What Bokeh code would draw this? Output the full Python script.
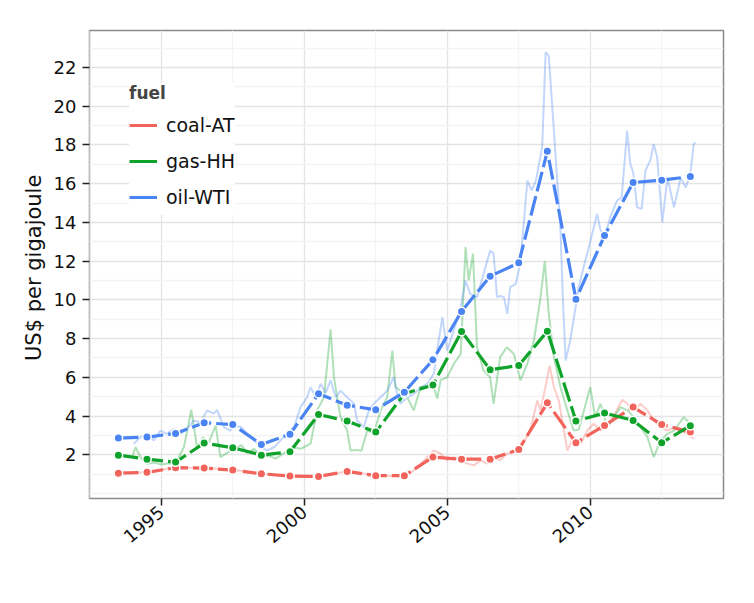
import math
from bokeh.plotting import figure
from bokeh.models import FixedTicker, Range1d, Legend, LegendItem
from bokeh.embed import file_html
from bokeh.resources import INLINE

# ---------------- data ----------------
years = [1993.5, 1994.5, 1995.5, 1996.5, 1997.5, 1998.5, 1999.5, 2000.5, 2001.5, 2002.5,
         2003.5, 2004.5, 2005.5, 2006.5, 2007.5, 2008.5, 2009.5, 2010.5, 2011.5, 2012.5, 2013.5]
coal_y = [1.05, 1.09, 1.33, 1.31, 1.21, 1.02, 0.90, 0.88, 1.14, 0.92, 0.92, 1.88, 1.77, 1.77,
          2.27, 4.68, 2.62, 3.51, 4.46, 3.56, 3.17]
gas_y = [1.98, 1.77, 1.62, 2.60, 2.36, 1.98, 2.15, 4.08, 3.74, 3.17, 5.15, 5.60, 8.37, 6.39,
         6.61, 8.38, 3.74, 4.15, 3.77, 2.62, 3.50]
oil_y = [2.86, 2.91, 3.10, 3.65, 3.56, 2.53, 3.06, 5.15, 4.56, 4.32, 5.23, 6.90, 9.40, 11.22,
         11.91, 17.67, 10.03, 13.32, 16.06, 16.18, 16.37]

coal_t = [1994.0, 1994.5, 1995.0, 1995.5, 1996.0, 1996.5, 1997.0, 1997.5, 1998.0, 1998.5,
          1999.0, 1999.5, 2000.0, 2000.5, 2001.0, 2001.5, 2002.0, 2002.5, 2003.0, 2003.5,
          2003.8, 2004.1, 2004.3, 2004.53, 2004.77, 2005.0, 2005.23, 2005.47, 2005.7, 2005.93,
          2006.16, 2006.4, 2006.62, 2006.85, 2007.08, 2007.3, 2007.55, 2007.9, 2008.15, 2008.26,
          2008.45, 2008.58, 2008.73, 2008.9, 2009.08, 2009.2, 2009.42, 2009.66, 2009.9, 2010.12,
          2010.36, 2010.6, 2010.8, 2011.12, 2011.3, 2011.53, 2011.76, 2012.0, 2012.22, 2012.46,
          2012.7, 2012.93, 2013.16, 2013.4, 2013.62]
coal_m = [1.08, 1.10, 1.22, 1.35, 1.33, 1.32, 1.28, 1.22, 1.12, 1.02,
          0.95, 0.90, 0.87, 0.88, 1.00, 1.16, 1.05, 0.93, 0.90, 0.93,
          1.15, 1.55, 1.88, 2.22, 2.05, 1.71, 1.88, 1.71, 1.54, 1.45,
          1.71, 1.54, 1.88, 1.71, 2.05, 2.15, 2.30, 3.25, 4.80, 4.29,
          5.60, 6.60, 5.50, 4.80, 3.25, 2.22, 2.91, 2.57, 3.25, 3.60,
          3.25, 3.60, 3.94, 4.84, 4.63, 4.29, 4.63, 4.29, 3.77, 3.42,
          3.25, 3.42, 3.25, 3.08, 2.83]

gas_t = [1994.0, 1994.1, 1994.3, 1994.5, 1994.75, 1995.0, 1995.25, 1995.5, 1995.79, 1996.05,
         1996.26, 1996.45, 1996.65, 1996.9, 1997.07, 1997.3, 1997.55, 1997.8, 1998.0, 1998.25,
         1998.5, 1998.75, 1999.0, 1999.3, 1999.58, 1999.88, 2000.22, 2000.45, 2000.69, 2000.92,
         2001.04, 2001.15, 2001.27, 2001.5, 2001.62, 2001.85, 2002.0, 2002.2, 2002.43, 2002.67,
         2002.9, 2003.08, 2003.19, 2003.36, 2003.6, 2003.83, 2004.07, 2004.3, 2004.53, 2004.65,
         2004.77, 2005.0, 2005.23, 2005.47, 2005.64, 2005.75, 2005.9, 2006.04, 2006.27, 2006.5,
         2006.62, 2006.85, 2007.08, 2007.33, 2007.56, 2007.8, 2008.03, 2008.26, 2008.41, 2008.55,
         2008.73, 2008.96, 2009.2, 2009.42, 2009.6, 2009.78, 2010.0, 2010.17, 2010.36, 2010.6,
         2010.83, 2011.06, 2011.3, 2011.53, 2011.76, 2012.0, 2012.22, 2012.46, 2012.7, 2012.93,
         2013.27, 2013.45, 2013.62]
gas_m = [1.96, 2.39, 1.80, 1.53, 1.60, 1.50, 1.55, 1.55, 2.39, 4.32,
         2.31, 2.90, 2.60, 3.51, 1.88, 2.10, 2.30, 2.50, 2.10, 2.30,
         1.90, 1.95, 1.80, 2.10, 2.39, 2.31, 2.57, 4.29, 4.97, 8.47,
         6.00, 4.97, 3.94, 3.25, 2.22, 2.25, 2.20, 3.25, 3.10, 4.29,
         4.97, 7.38, 5.50, 5.30, 4.97, 4.29, 5.50, 5.50, 5.50, 4.90,
         5.85, 6.00, 6.70, 7.20, 12.72, 11.00, 12.38, 7.55, 6.35, 6.00,
         4.63, 7.04, 7.55, 7.20, 5.84, 6.70, 7.90, 10.10, 12.00, 9.28,
         7.04, 5.49, 4.29, 3.25, 3.30, 4.29, 5.49, 3.94, 4.63, 3.42,
         3.94, 4.46, 4.29, 3.94, 3.42, 2.91, 1.88, 2.74, 3.08, 3.25,
         3.94, 3.68, 3.42]

oil_t = [1994.04, 1994.27, 1994.5, 1994.74, 1994.97, 1995.2, 1995.45, 1995.7, 1995.9, 1996.14,
         1996.37, 1996.6, 1996.84, 1996.95, 1997.19, 1997.4, 1997.6, 1997.8, 1998.0, 1998.26,
         1998.47, 1998.7, 1998.96, 1999.17, 1999.4, 1999.64, 1999.87, 2000.1, 2000.22, 2000.4,
         2000.57, 2000.75, 2000.92, 2001.1, 2001.27, 2001.5, 2001.74, 2001.85, 2002.08, 2002.26,
         2002.43, 2002.67, 2002.9, 2003.13, 2003.25, 2003.36, 2003.6, 2003.83, 2004.07, 2004.3,
         2004.53, 2004.7, 2004.83, 2005.0, 2005.23, 2005.47, 2005.64, 2005.8, 2006.04, 2006.27,
         2006.5, 2006.62, 2006.74, 2006.86, 2006.98, 2007.1, 2007.2, 2007.4, 2007.55, 2007.65,
         2007.8, 2007.95, 2008.1, 2008.32, 2008.44, 2008.55, 2008.73, 2008.96, 2009.04, 2009.14,
         2009.3, 2009.45, 2009.6, 2009.77, 2010.0, 2010.24, 2010.36, 2010.5, 2010.7, 2010.94,
         2011.1, 2011.29, 2011.4, 2011.5, 2011.64, 2011.8, 2011.93, 2012.1, 2012.22, 2012.34,
         2012.52, 2012.7, 2012.93, 2013.16, 2013.34, 2013.5, 2013.62, 2013.68]
oil_m = [2.57, 2.91, 3.08, 2.74, 3.25, 3.08, 3.34, 3.10, 3.34, 3.77,
         3.68, 4.29, 4.12, 4.32, 3.42, 3.25, 3.50, 3.42, 3.08, 2.74,
         2.40, 2.22, 2.40, 2.74, 3.08, 3.42, 4.46, 4.97, 5.49, 4.97,
         5.66, 5.20, 5.84, 4.97, 5.31, 4.97, 4.63, 3.77, 3.42, 4.29,
         4.63, 4.97, 5.31, 6.00, 5.14, 4.63, 4.97, 5.14, 5.49, 5.66,
         6.18, 7.90, 9.10, 7.38, 8.42, 9.62, 11.00, 10.31, 10.14, 11.34,
         12.55, 12.38, 10.14, 10.20, 10.14, 9.28, 10.66, 10.83, 11.90, 13.50,
         16.16, 15.65, 16.16, 17.88, 22.79, 22.60, 18.74, 13.60, 10.14, 6.87,
         7.90, 9.28, 10.66, 11.69, 13.00, 14.44, 13.60, 13.20, 14.27, 15.13,
         15.30, 18.74, 17.02, 16.60, 14.78, 14.70, 16.68, 17.20, 18.05, 17.36,
         14.00, 16.30, 14.78, 16.30, 15.80, 16.50, 18.05, 18.13]

fuels = ["coal-AT", "gas-HH", "oil-WTI"]
colors = ["#F2635B", "#0FA32B", "#4A84F3"]
x_ticks = [1995, 2000, 2005, 2010]
x_minor = [1992.5, 1997.5, 2002.5, 2007.5, 2012.5]
y_ticks = [2, 4, 6, 8, 10, 12, 14, 16, 18, 20, 22]
y_minor = [0, 1, 3, 5, 7, 9, 11, 13, 15, 17, 19, 21, 23]

FONT = "DejaVu Sans"

p = figure(width=738, height=587, output_backend="svg", toolbar_location=None,
           x_range=Range1d(1992.49, 2014.66), y_range=Range1d(-0.26, 23.91),
           min_border_left=89, min_border_right=15, min_border_top=30, min_border_bottom=89)

p.background_fill_color = "white"
p.border_fill_color = "white"
p.outline_line_color = "#8a8a8a"
p.outline_line_width = 1.5

# grids
p.xgrid.ticker = FixedTicker(ticks=x_ticks, minor_ticks=x_minor)
p.ygrid.ticker = FixedTicker(ticks=y_ticks, minor_ticks=y_minor)
for g in (p.xgrid, p.ygrid):
    g.grid_line_color = "#E4E4E4"
    g.grid_line_width = 1.3
    g.minor_grid_line_color = "#F4F4F4"
    g.minor_grid_line_width = 1.3

# axes
p.xaxis.ticker = FixedTicker(ticks=x_ticks)
p.yaxis.ticker = FixedTicker(ticks=y_ticks)
for ax in (p.xaxis, p.yaxis):
    ax.axis_line_color = None
    ax.major_tick_line_color = "#222222"
    ax.major_tick_line_width = 1.5
    ax.major_tick_in = 0
    ax.major_tick_out = 7
    ax.minor_tick_line_color = None
    ax.major_label_text_font = FONT
    ax.major_label_text_font_size = "18px"
    ax.major_label_text_color = "#111111"
    ax.major_label_standoff = 6
p.xaxis.major_label_orientation = math.radians(40)
p.xaxis.major_label_standoff = 4
p.yaxis.axis_label = "US$ per  gigajoule"
p.yaxis.axis_label_text_font = FONT
p.yaxis.axis_label_text_font_style = "normal"
p.yaxis.axis_label_text_font_size = "21px"
p.yaxis.axis_label_text_color = "#111111"
p.yaxis.axis_label_standoff = 5

monthly = [(coal_t, coal_m), (gas_t, gas_m), (oil_t, oil_m)]
annual = [coal_y, gas_y, oil_y]

for (t, m), c in zip(monthly, colors):
    p.line(t, m, line_color=c, line_alpha=0.33, line_width=2)

# key samples placed outside the visible range (only used to draw legend keys)
key_x = [1980.0, 1981.0]
key_y = [-50.0, -50.0]

items = []
for ys, c, name in zip(annual, colors, fuels):
    p.line(years, ys, line_color=c, line_width=3.2, line_dash="20 5")
    p.scatter(years, ys, size=8.5, fill_color=c, line_color="white", line_width=1.5)
    kl = p.line(key_x, key_y, line_color=c, line_width=3)
    kp = p.scatter(key_x, key_y, marker="dot", size=20, fill_color=c, line_color=c, line_width=2)
    items.append(LegendItem(label=name, renderers=[kl, kp]))

legend = Legend(items=items, location=(40, 283), title="fuel",
                title_text_font=FONT, title_text_font_style="bold", title_text_font_size="17px",
                title_standoff=4,
                label_text_font=FONT, label_text_font_size="19px", label_text_color="#111111",
                glyph_width=28, glyph_height=36, label_height=36, spacing=0,
                label_standoff=9, padding=5, margin=0,
                background_fill_color="white", background_fill_alpha=1.0,
                border_line_color=None)
p.add_layout(legend, "center")

open("out.html", "w").write(file_html(p, INLINE))
